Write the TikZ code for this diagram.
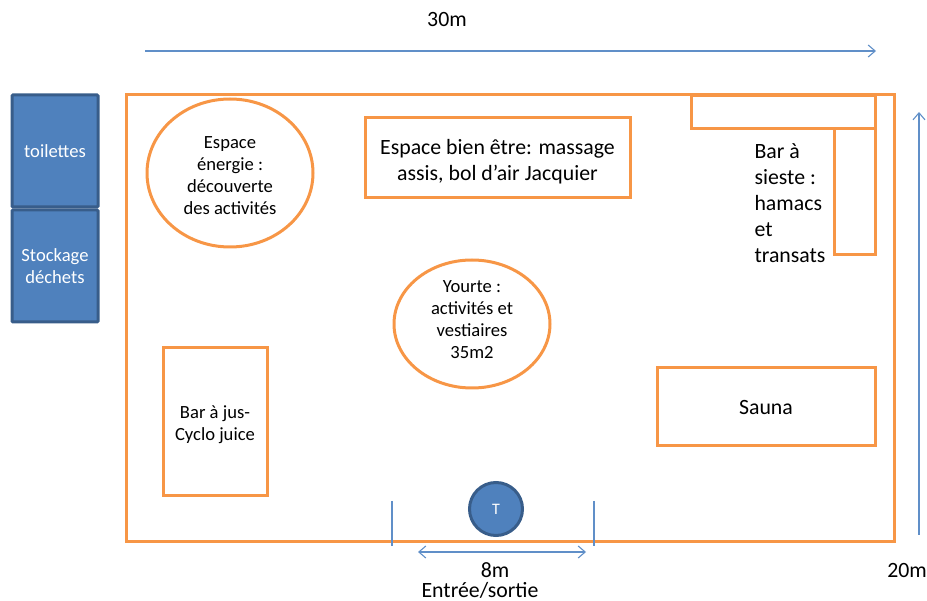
\documentclass[tikz,border=0pt]{standalone}
\usepackage{fontspec}
\setmainfont{Carlito}
\usetikzlibrary{shapes.geometric,arrows.meta}
\definecolor{zoneorange}{RGB}{247,150,70}
\definecolor{boxblue}{RGB}{79,129,189}
\definecolor{boxedge}{RGB}{56,93,138}
\definecolor{rulerblue}{RGB}{96,143,200}
\newcommand{\pushdown}[1]{\rule{0pt}{#1}}
\newcommand{\pushup}[1]{\rule[-#1]{0pt}{#1}}
\tikzset{
  zone/.style={draw=zoneorange,line width=3pt,inner sep=0pt,align=center,text=black},
  block/.style={draw=boxedge,line width=3pt,fill=boxblue,inner sep=0pt,align=center,text=white},
  measure/.style={draw=rulerblue,line width=1.1pt},
  openarrow/.style={measure,-{Straight Barb[length=7pt,width=12pt]}},
  bigtext/.style={font=\fontsize{21.8}{26}\selectfont},
  smalltext/.style={font=\fontsize{18.6}{22}\selectfont}
}
\begin{document}
\begin{tikzpicture}[x=1pt,y=-1pt]
  \useasboundingbox (0,0) rectangle (927,601);

  \begin{scope}[every node/.style={zone,rectangle}]
    \node[minimum width=768pt,minimum height=446pt] (site) at (510,318) {};
    \node[minimum width=184pt,minimum height=33pt] (siestatop) at (783,112.5) {};
    \node[minimum width=41pt,minimum height=126pt] (siestaside) at (854.5,192) {};
    \node[minimum width=265pt,minimum height=80pt,bigtext] (wellness) at (497.5,158) {\pushdown{22pt}Espace bien être: massage\\assis, bol d’air Jacquier};
    \node[minimum width=218pt,minimum height=78pt,bigtext] (sauna) at (766,407) {\pushdown{16pt}Sauna};
    \node[minimum width=104pt,minimum height=148pt,smalltext] (juice) at (215,422) {\pushdown{18pt}Bar à jus-\\Cyclo juice};
  \end{scope}

  \begin{scope}[every node/.style={zone,ellipse}]
    \node[minimum width=166pt,minimum height=148pt,smalltext] (energy) at (230,173) {\pushdown{18pt}Espace\\énergie :\\découverte\\des activités};
    \node[minimum width=156pt,minimum height=128pt,smalltext] (yurt) at (472,324) {Yourte :\\activités et\\vestiaires\\35m2\pushup{8pt}};
  \end{scope}

  \begin{scope}[every node/.style={block,rectangle,rounded corners=1pt,minimum width=86pt,minimum height=112pt,smalltext}]
    \node (wc) at (55,151) {toilettes};
    \node (waste) at (55,266) {Stockage\\déchets};
  \end{scope}
  \node[block,circle,minimum size=53pt,font=\fontsize{16}{18}\selectfont] (till) at (496,509) {T};

  \node[anchor=west,align=left,bigtext] (siesta) at (751,203) {Bar à\\sieste :\\hamacs\\et\\transats};
  \node[bigtext] (length) at (447,20) {30m};
  \node[bigtext] (width) at (907,571) {20m};
  \node[bigtext,inner sep=0pt] (gate) at (495,570) {8m};
  \node[bigtext,inner sep=0pt] (exit) at (480,590) {Entrée/sortie};

  \coordinate (lengthA) at (145,51);
  \coordinate (lengthB) at (876,51);
  \coordinate (widthA) at (919,535);
  \coordinate (widthB) at (919,112);
  \coordinate (gateA) at (418,552);
  \coordinate (gateB) at (586,552);
  \coordinate (tickA) at (392,501);
  \coordinate (tickB) at (392,546);
  \coordinate (tickC) at (594,501);
  \coordinate (tickD) at (594,546);

  \draw[openarrow] (lengthA) -- (lengthB);
  \draw[openarrow] (widthA) -- (widthB);
  \draw[openarrow,{Straight Barb[length=7pt,width=12pt]}-{Straight Barb[length=7pt,width=12pt]}] (gateA) -- (gateB);
  \draw[measure] (tickA) -- (tickB);
  \draw[measure] (tickC) -- (tickD);

\end{tikzpicture}
\end{document}
